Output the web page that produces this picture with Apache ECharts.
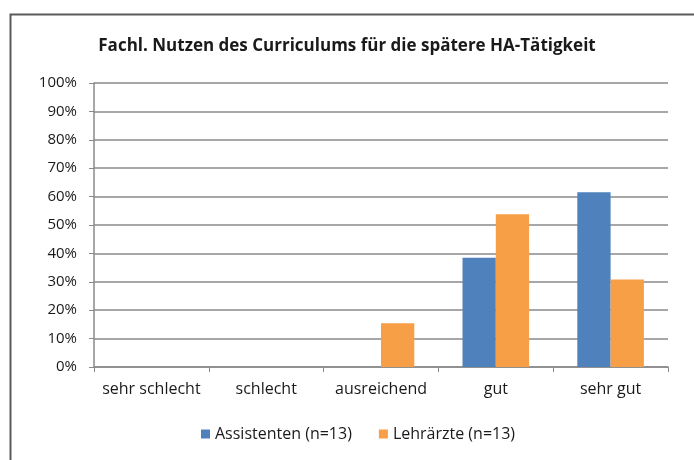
<!DOCTYPE html>
<html><head><meta charset="utf-8">
<script src="https://cdn.jsdelivr.net/npm/echarts@6/dist/echarts.min.js"></script>
<style>html,body{margin:0;padding:0;background:#fff}#c{width:694px;height:460px}</style>
</head><body><div id="c"></div>
<script>
var categories = ['sehr schlecht', 'schlecht', 'ausreichend', 'gut', 'sehr gut'];
var assistenten = [0, 0, 0, 38.5, 61.5];
var lehraerzte = [0, 0, 15.4, 53.8, 30.8];
var seriesNames = ['Assistenten (n=13)', 'Lehrärzte (n=13)'];
var titleText = 'Fachl. Nutzen des Curriculums für die spätere HA-Tätigkeit';

var font = 'Open Sans';
var chart = echarts.init(document.getElementById('c'));
chart.setOption({
  animation: false,
  textStyle: { fontFamily: font },
  graphic: [{
    type: 'rect', left: 8, top: 12, shape: { width: 720, height: 480 },
    style: { fill: 'none', stroke: '#5a5a5a', lineWidth: 2 }, silent: true
  }],
  title: {
    text: titleText, left: 'center', top: 33,
    textStyle: { fontFamily: font, fontSize: 17, fontWeight: 'bold', color: '#1a1a1a' }
  },
  legend: {
    bottom: 13, left: 196, itemWidth: 9, itemHeight: 9, itemGap: 27,
    icon: 'rect',
    textStyle: { fontFamily: font, fontSize: 16, color: '#1a1a1a' },
    data: seriesNames
  },
  grid: { left: 94, right: 26, top: 83, bottom: 93, containLabel: false },
  xAxis: {
    type: 'category', data: categories,
    axisLine: { lineStyle: { color: '#8a8a8a', width: 1.5 } },
    axisTick: { show: true, length: 5, lineStyle: { color: '#8a8a8a' } },
    axisLabel: { interval: 0, fontFamily: font, fontSize: 16, color: '#1a1a1a', margin: 14 }
  },
  yAxis: {
    type: 'value', min: 0, max: 100, interval: 10,
    axisLine: { show: true, lineStyle: { color: '#8a8a8a', width: 1.5 } },
    axisTick: { show: true, length: 5, lineStyle: { color: '#8a8a8a' } },
    axisLabel: { fontFamily: font, fontSize: 15, color: '#1a1a1a', formatter: '{value}%', margin: 17 },
    splitLine: { lineStyle: { color: '#8a8a8a', width: 1.5 } }
  },
  series: [
    { name: seriesNames[0], type: 'bar', data: assistenten, barGap: '0%', barCategoryGap: '42%',
      itemStyle: { color: '#4f81bd' } },
    { name: seriesNames[1], type: 'bar', data: lehraerzte, barGap: '0%', barCategoryGap: '42%',
      itemStyle: { color: '#f79f46' } }
  ]
});
</script></body></html>
